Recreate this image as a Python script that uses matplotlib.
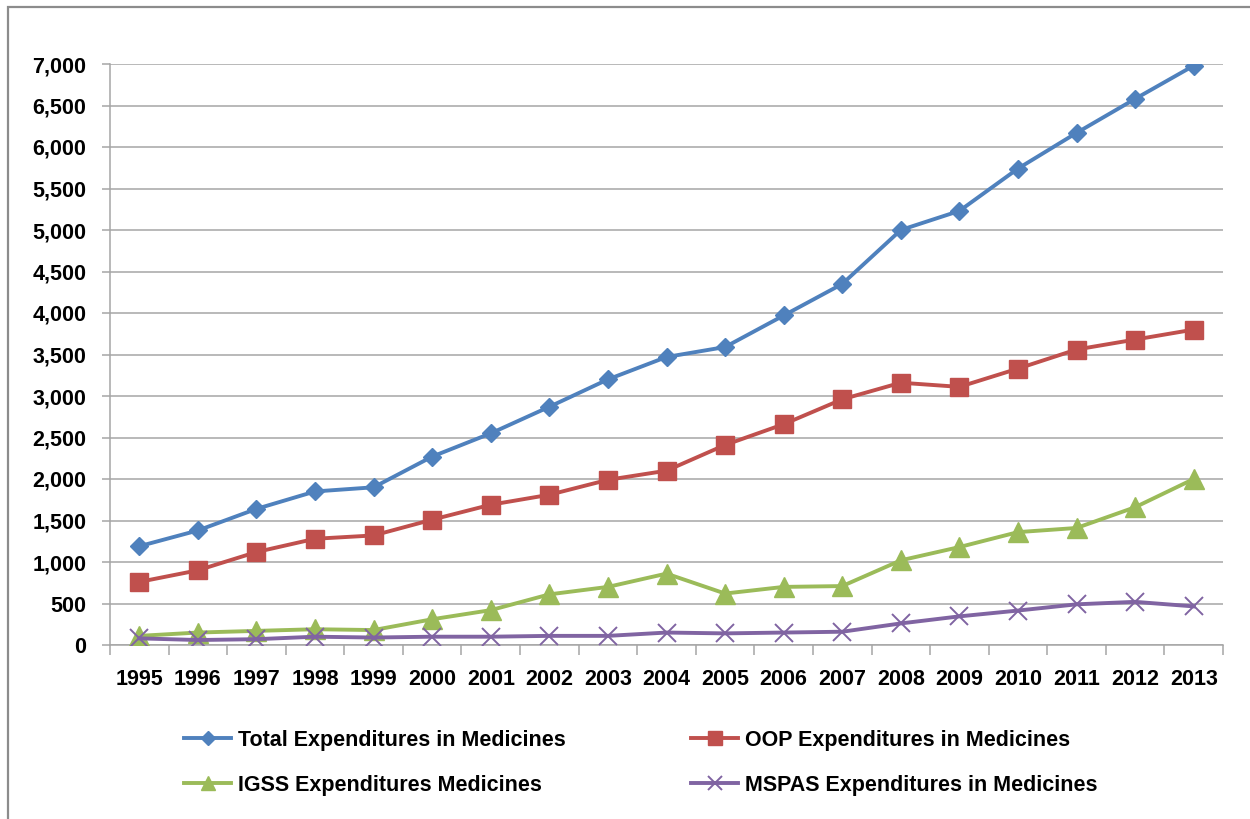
import matplotlib
matplotlib.use("Agg")
import matplotlib.pyplot as plt
from matplotlib.patches import Rectangle
from matplotlib.ticker import FuncFormatter, MultipleLocator, FixedLocator
import numpy as np

years = ["1995", "1996", "1997", "1998", "1999", "2000", "2001", "2002", "2003", "2004",
         "2005", "2006", "2007", "2008", "2009", "2010", "2011", "2012", "2013"]
total = [1190, 1380, 1640, 1850, 1900, 2270, 2550, 2870, 3200, 3470,
         3590, 3970, 4350, 5000, 5230, 5740, 6170, 6580, 6980]
oop = [760, 900, 1120, 1280, 1320, 1510, 1690, 1810, 1990, 2100,
       2410, 2660, 2960, 3160, 3110, 3330, 3560, 3680, 3800]
igss = [110, 150, 170, 190, 180, 310, 420, 610, 700, 860,
        620, 700, 710, 1020, 1180, 1360, 1410, 1660, 2000]
mspas = [80, 60, 70, 100, 90, 100, 100, 110, 110, 150,
         140, 150, 160, 260, 345, 415, 490, 520, 465]
labels = ["Total Expenditures in Medicines", "OOP Expenditures in Medicines",
          "IGSS Expenditures Medicines", "MSPAS Expenditures in Medicines"]

plt.rcParams['font.family'] = ['Liberation Sans', 'DejaVu Sans']
plt.rcParams['font.weight'] = 'bold'

fig = plt.figure(figsize=(12.5, 8.19), dpi=100)
ax = fig.add_axes([110/1250, 1-645/819, (1223-110)/1250, (645-64)/819])

x = np.arange(len(years))
grid_c = '#a6a6a6'
l1, = ax.plot(x, total, color='#4F81BD', lw=2.8, marker='D', ms=9.5, zorder=5)
l2, = ax.plot(x, oop, color='#C0504D', lw=2.8, marker='s', ms=13, zorder=5)
l3, = ax.plot(x, igss, color='#9BBB59', lw=2.8, marker='^', ms=14, zorder=5)
l4, = ax.plot(x, mspas, color='#8064A2', lw=2.8, marker='x', ms=13, mew=1.4, zorder=5)

ax.set_xlim(-0.5, len(years)-0.5)
ax.set_ylim(0, 7000)
ax.yaxis.set_major_locator(MultipleLocator(500))
ax.yaxis.set_major_formatter(FuncFormatter(lambda v, p: f"{int(v):,}"))
ax.grid(axis='y', color=grid_c, lw=1.1, zorder=0)
ax.set_axisbelow(True)

ax.set_xticks(x)
ax.set_xticklabels(years)
ax.xaxis.set_minor_locator(FixedLocator(np.arange(-0.5, len(years), 1.0)))
ax.tick_params(axis='x', which='major', length=0, pad=17, labelsize=15.5)
ax.tick_params(axis='x', which='minor', length=7, width=1.1, color=grid_c)
ax.tick_params(axis='y', length=6, width=1.1, color=grid_c, pad=11, labelsize=15.5)

for s in ['top', 'right']:
    ax.spines[s].set_visible(False)
for s in ['left', 'bottom']:
    ax.spines[s].set_color(grid_c)
    ax.spines[s].set_linewidth(1.1)

fig.legend([l1, l3, l2, l4], [labels[0], labels[2], labels[1], labels[3]], loc='upper left',
           bbox_to_anchor=(184/1250, 1-730/819), ncol=2, frameon=False,
           fontsize=15.5, handlelength=2.2, handletextpad=0.3,
           columnspacing=5.83, labelspacing=1.1, markerscale=0.75,
           borderaxespad=0, borderpad=0)

fig.patches.append(Rectangle((8/1250, -0.1), 1.2, 1-7/819+0.1, transform=fig.transFigure,
                             fill=False, edgecolor='#8c8c8c', lw=1.6))

fig.savefig("out.png", dpi=100)
